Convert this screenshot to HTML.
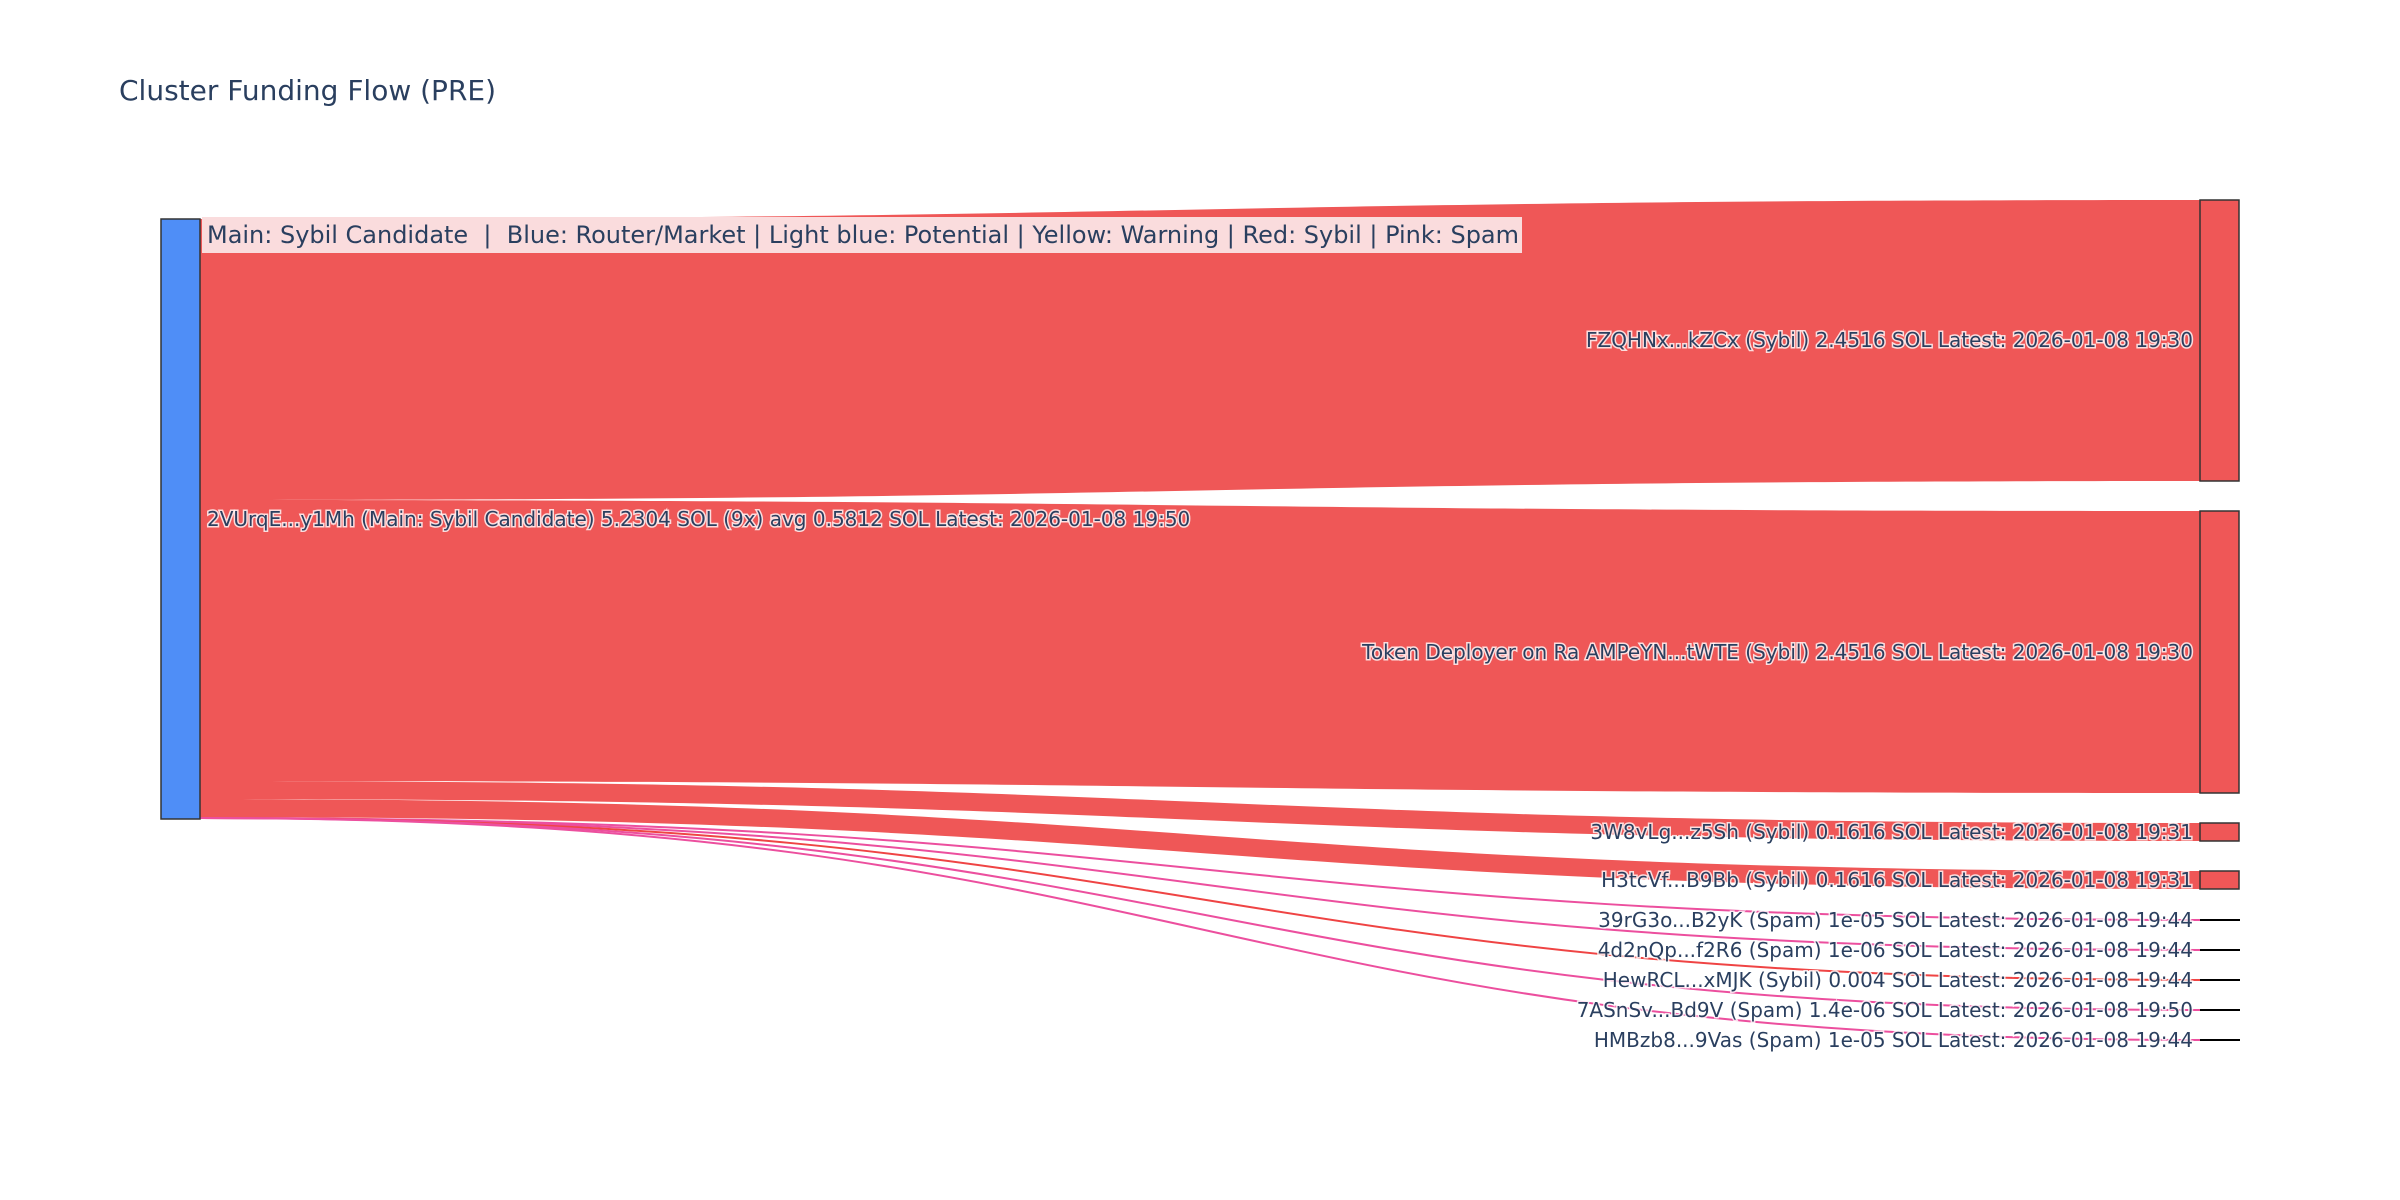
<!DOCTYPE html>
<html><head><meta charset="utf-8"><style>
html,body{margin:0;padding:0;background:#fff;}
svg{display:block;font-family:"DejaVu Sans","Liberation Sans",sans-serif;}
.lbl{font-size:20px;fill:#2a3f5f;paint-order:stroke;stroke:#fff;stroke-width:3px;stroke-opacity:.8;}
</style></head><body>
<svg width="2400" height="1200" viewBox="0 0 2400 1200">
<rect width="2400" height="1200" fill="#fff"/>
<text x="119" y="100" font-size="28" fill="#2a3f5f">Cluster Funding Flow (PRE)</text>
<g fill="#ef5757">
<path d="M200,219 C1200,219 1200,200 2200,200 L2200,481 C1200,481 1200,500 200,500Z"/>
<path d="M200,500 C1200,500 1200,511 2200,511 L2200,793 C1200,793 1200,781 200,781Z"/>
<path d="M200,781 C1200,781 1200,823 2200,823 L2200,841 C1200,841 1200,799 200,799Z"/>
<path d="M200,799 C1200,799 1200,871 2200,871 L2200,889 C1200,889 1200,817 200,817Z"/>
</g>
<g fill="none" stroke-width="2">
<path d="M200,818 C1200,818 1200,920 2200,920" stroke="#ec4f9e"/>
<path d="M200,818 C1200,818 1200,950 2200,950" stroke="#ec4f9e"/>
<path d="M200,818 C1200,818 1200,980 2200,980" stroke="#ef4444"/>
<path d="M200,818 C1200,818 1200,1010 2200,1010" stroke="#ec4f9e"/>
<path d="M200,818 C1200,818 1200,1040 2200,1040" stroke="#ec4f9e"/>
</g>
<rect x="161" y="219" width="39" height="600" fill="#4f8ef7" stroke="#333" stroke-width="1.5"/>
<g fill="#ef5757" stroke="#333" stroke-width="1.5">
<rect x="2200" y="200" width="39" height="281"/>
<rect x="2200" y="511" width="39" height="282"/>
<rect x="2200" y="823" width="39" height="18"/>
<rect x="2200" y="871" width="39" height="18"/>
</g>
<g stroke="#000" stroke-width="2">
<line x1="2200" y1="920" x2="2240" y2="920"/>
<line x1="2200" y1="950" x2="2240" y2="950"/>
<line x1="2200" y1="980" x2="2240" y2="980"/>
<line x1="2200" y1="1010" x2="2240" y2="1010"/>
<line x1="2200" y1="1040" x2="2240" y2="1040"/>
</g>
<rect x="202" y="217" width="1320" height="36" fill="#fadcdd"/>
<text x="207" y="243" font-size="24" fill="#2a3f5f" xml:space="preserve" textLength="1312" lengthAdjust="spacingAndGlyphs">Main: Sybil Candidate  |  Blue: Router/Market | Light blue: Potential | Yellow: Warning | Red: Sybil | Pink: Spam</text>
<text class="lbl" x="207" y="526">2VUrqE...y1Mh (Main: Sybil Candidate) 5.2304 SOL (9x) avg 0.5812 SOL Latest: 2026-01-08 19:50</text>
<g class="lbl" text-anchor="end">
<text x="2193" y="347">FZQHNx...kZCx (Sybil) 2.4516 SOL Latest: 2026-01-08 19:30</text>
<text x="2193" y="659">Token Deployer on Ra AMPeYN...tWTE (Sybil) 2.4516 SOL Latest: 2026-01-08 19:30</text>
<text x="2193" y="839">3W8vLg...z5Sh (Sybil) 0.1616 SOL Latest: 2026-01-08 19:31</text>
<text x="2193" y="887">H3tcVf...B9Bb (Sybil) 0.1616 SOL Latest: 2026-01-08 19:31</text>
<text x="2193" y="927">39rG3o...B2yK (Spam) 1e-05 SOL Latest: 2026-01-08 19:44</text>
<text x="2193" y="957">4d2nQp...f2R6 (Spam) 1e-06 SOL Latest: 2026-01-08 19:44</text>
<text x="2193" y="987">HewRCL...xMJK (Sybil) 0.004 SOL Latest: 2026-01-08 19:44</text>
<text x="2193" y="1017">7ASnSv...Bd9V (Spam) 1.4e-06 SOL Latest: 2026-01-08 19:50</text>
<text x="2193" y="1047">HMBzb8...9Vas (Spam) 1e-05 SOL Latest: 2026-01-08 19:44</text>
</g>
</svg>
</body></html>
